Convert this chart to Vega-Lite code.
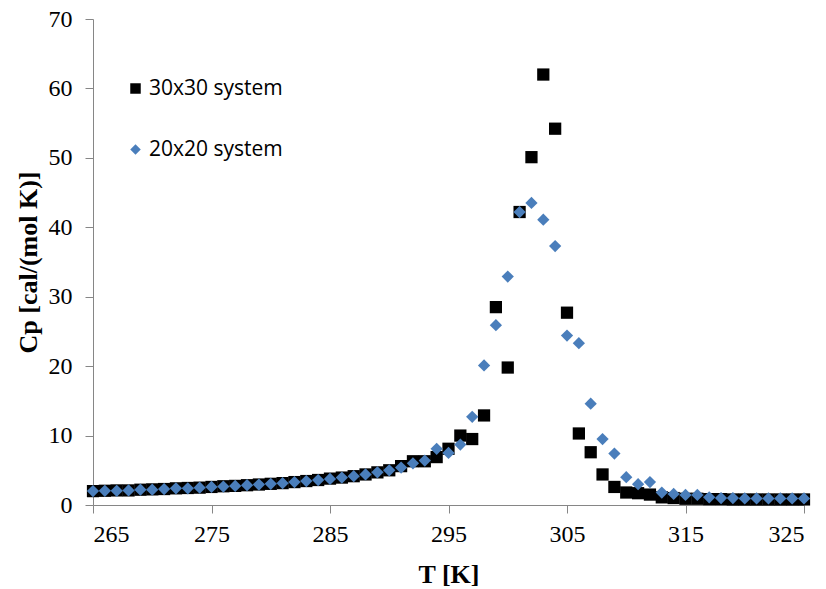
{
  "$schema": "https://vega.github.io/schema/vega-lite/v6.json",
  "width": 711,
  "height": 486,
  "autosize": "none",
  "padding": {"left": 93, "top": 19, "right": 22, "bottom": 84},
  "background": "white",
  "config": {"view": {"stroke": null}},
  "datasets": {
    "d30": [
      {"T":265,"Cp":2.0},{"T":266,"Cp":2.05},{"T":267,"Cp":2.1},{"T":268,"Cp":2.1},{"T":269,"Cp":2.2},{"T":270,"Cp":2.25},{"T":271,"Cp":2.3},{"T":272,"Cp":2.4},{"T":273,"Cp":2.45},{"T":274,"Cp":2.5},{"T":275,"Cp":2.6},{"T":276,"Cp":2.7},{"T":277,"Cp":2.75},{"T":278,"Cp":2.85},{"T":279,"Cp":2.95},{"T":280,"Cp":3.05},{"T":281,"Cp":3.15},{"T":282,"Cp":3.3},{"T":283,"Cp":3.45},{"T":284,"Cp":3.6},{"T":285,"Cp":3.8},{"T":286,"Cp":3.95},{"T":287,"Cp":4.15},{"T":288,"Cp":4.4},{"T":289,"Cp":4.7},{"T":290,"Cp":5.0},{"T":291,"Cp":5.6},{"T":292,"Cp":6.3},{"T":293,"Cp":6.3},{"T":294,"Cp":6.9},{"T":295,"Cp":8.1},{"T":296,"Cp":10.0},{"T":297,"Cp":9.5},{"T":298,"Cp":12.9},{"T":299,"Cp":28.5},{"T":300,"Cp":19.8},{"T":301,"Cp":42.2},{"T":302,"Cp":50.1},{"T":303,"Cp":62.0},{"T":304,"Cp":54.2},{"T":305,"Cp":27.7},{"T":306,"Cp":10.3},{"T":307,"Cp":7.6},{"T":308,"Cp":4.4},{"T":309,"Cp":2.6},{"T":310,"Cp":1.8},{"T":311,"Cp":1.7},{"T":312,"Cp":1.5},{"T":313,"Cp":1.1},{"T":314,"Cp":1.0},{"T":315,"Cp":0.9},{"T":316,"Cp":0.9},{"T":317,"Cp":0.85},{"T":318,"Cp":0.85},{"T":319,"Cp":0.8},{"T":320,"Cp":0.8},{"T":321,"Cp":0.8},{"T":322,"Cp":0.8},{"T":323,"Cp":0.8},{"T":324,"Cp":0.8},{"T":325,"Cp":0.8}
    ],
    "d20": [
      {"T":265,"Cp":2.0},{"T":266,"Cp":2.05},{"T":267,"Cp":2.05},{"T":268,"Cp":2.1},{"T":269,"Cp":2.2},{"T":270,"Cp":2.2},{"T":271,"Cp":2.3},{"T":272,"Cp":2.4},{"T":273,"Cp":2.4},{"T":274,"Cp":2.5},{"T":275,"Cp":2.6},{"T":276,"Cp":2.65},{"T":277,"Cp":2.75},{"T":278,"Cp":2.85},{"T":279,"Cp":2.95},{"T":280,"Cp":3.05},{"T":281,"Cp":3.15},{"T":282,"Cp":3.3},{"T":283,"Cp":3.45},{"T":284,"Cp":3.6},{"T":285,"Cp":3.75},{"T":286,"Cp":3.95},{"T":287,"Cp":4.15},{"T":288,"Cp":4.4},{"T":289,"Cp":4.7},{"T":290,"Cp":5.0},{"T":291,"Cp":5.4},{"T":292,"Cp":6.0},{"T":293,"Cp":6.4},{"T":294,"Cp":8.1},{"T":295,"Cp":7.5},{"T":296,"Cp":8.7},{"T":297,"Cp":12.7},{"T":298,"Cp":20.1},{"T":299,"Cp":25.9},{"T":300,"Cp":32.9},{"T":301,"Cp":42.2},{"T":302,"Cp":43.5},{"T":303,"Cp":41.1},{"T":304,"Cp":37.3},{"T":305,"Cp":24.4},{"T":306,"Cp":23.3},{"T":307,"Cp":14.6},{"T":308,"Cp":9.5},{"T":309,"Cp":7.4},{"T":310,"Cp":4.0},{"T":311,"Cp":3.0},{"T":312,"Cp":3.3},{"T":313,"Cp":1.8},{"T":314,"Cp":1.6},{"T":315,"Cp":1.45},{"T":316,"Cp":1.45},{"T":317,"Cp":1.1},{"T":318,"Cp":1.0},{"T":319,"Cp":1.0},{"T":320,"Cp":0.95},{"T":321,"Cp":0.95},{"T":322,"Cp":0.95},{"T":323,"Cp":0.95},{"T":324,"Cp":0.95},{"T":325,"Cp":0.95}
    ]
  },
  "encoding": {
    "x": {
      "field": "T", "type": "quantitative",
      "scale": {"domain": [265, 325], "nice": false, "zero": false},
      "axis": {
        "title": "T [K]", "values": [265, 275, 285, 295, 305, 315, 325],
        "grid": false, "domainColor": "#868686", "tickColor": "#868686", "tickSize": 8,
        "labelFont": "Liberation Serif", "labelFontSize": 24, "labelColor": "#000000", "labelPadding": 9,
        "titleFont": "Liberation Serif", "titleFontSize": 26, "titleFontWeight": "bold", "titleColor": "#000000", "titlePadding": 15
      }
    },
    "y": {
      "field": "Cp", "type": "quantitative",
      "scale": {"domain": [0, 70], "nice": false},
      "axis": {
        "title": "Cp [cal/(mol K)]", "values": [0, 10, 20, 30, 40, 50, 60, 70],
        "grid": false, "domainColor": "#868686", "tickColor": "#868686", "tickSize": 8,
        "labelFont": "Liberation Serif", "labelFontSize": 24, "labelColor": "#000000", "labelPadding": 13,
        "titleFont": "Liberation Serif", "titleFontSize": 26, "titleFontWeight": "bold", "titleColor": "#000000", "titlePadding": 7
      }
    },
    "shape": {
      "field": "series", "type": "nominal",
      "scale": {"domain": ["30x30 system", "20x20 system"], "range": ["square", "diamond"]},
      "legend": {
        "title": null, "orient": "none", "legendX": 32, "legendY": 59,
        "labelFont": "Open Sans", "labelFontSize": 21, "labelColor": "#000000",
        "symbolSize": 110, "rowPadding": 39, "labelOffset": 3
      }
    },
    "color": {
      "field": "series", "type": "nominal",
      "scale": {"domain": ["30x30 system", "20x20 system"], "range": ["#000000", "#4a7ebb"]},
      "legend": {
        "title": null, "orient": "none", "legendX": 32, "legendY": 59,
        "labelFont": "Open Sans", "labelFontSize": 21, "labelColor": "#000000",
        "symbolSize": 110, "rowPadding": 39, "labelOffset": 3
      }
    }
  },
  "layer": [
    {
      "data": {"name": "d30"},
      "transform": [{"calculate": "'30x30 system'", "as": "series"}],
      "mark": {"type": "point", "filled": true, "size": 150, "opacity": 1}
    },
    {
      "data": {"name": "d20"},
      "transform": [{"calculate": "'20x20 system'", "as": "series"}],
      "mark": {"type": "point", "filled": true, "size": 150, "opacity": 1}
    }
  ]
}
